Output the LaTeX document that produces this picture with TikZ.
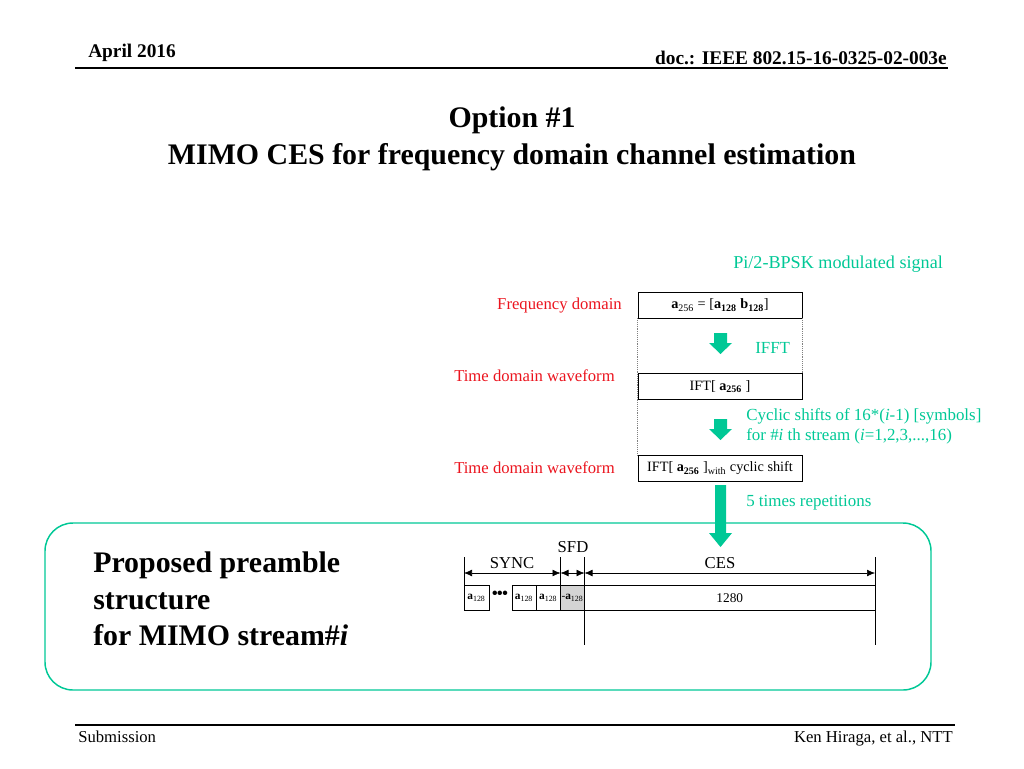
\documentclass[tikz,border=0pt]{standalone}
\usepackage{fontspec}
\setmainfont{Liberation Serif}
\usetikzlibrary{arrows.meta}
\definecolor{cesgreen}{RGB}{0,200,150}
\definecolor{domred}{RGB}{235,20,30}
\definecolor{sfdgray}{RGB}{212,212,212}

\begin{document}
\begin{tikzpicture}[x=0.75pt,y=-0.75pt]
	\tikzset{box/.style = {draw, minimum width=123pt, minimum height=19.5pt, inner sep=0pt, font=\fontsize{10.7}{12}\selectfont},
		cell/.style = {draw, minimum height=19pt, inner sep=0pt, font=\fontsize{8.5}{9}\selectfont},
		redtext/.style = {text=domred, anchor=east, inner sep=0pt, font=\fontsize{12.5}{15}\selectfont},
		greentext/.style = {text=cesgreen, anchor=west, inner sep=0pt, font=\fontsize{12.7}{15}\selectfont},
		dimline/.style = {{Latex[length=6pt,width=5pt]}-{Latex[length=6pt,width=5pt]}}}

	\useasboundingbox (0,0) rectangle (1024,768);

	\node[anchor=west, inner sep=0pt, font=\fontsize{14.5}{17}\selectfont\bfseries] (H_date) at (88,53) {April 2016};
	\node[anchor=east, inner sep=0pt, font=\fontsize{14.5}{17}\selectfont\bfseries] (H_doc) at (947,58) {doc.: IEEE 802.15-16-0325-02-003e};
	\draw[line width=1.2pt] (75,68) -- (948,68);

	\node[font=\fontsize{22.4}{27}\selectfont\bfseries] (T_1) at (512,120) {Option \#1};
	\node[font=\fontsize{22.4}{27}\selectfont\bfseries] (T_2) at (512,157) {MIMO CES for frequency domain channel estimation};

	\node[greentext, font=\fontsize{13.6}{15}\selectfont] (G_bpsk) at (733,264) {Pi/2-BPSK modulated signal};

	\node[box] (F_box) at (720,305) {{\bfseries a}\textsubscript{256} = [{\bfseries a\textsubscript{128} b\textsubscript{128}}]};
	\node[box] (T_box) at (720,386.5) {IFT[ {\bfseries a\textsubscript{256}} ]};
	\node[box] (C_box) at (720,468.5) {IFT[ {\bfseries a\textsubscript{256}} ]\textsubscript{with} cyclic shift};

	\node[redtext] (R_freq) at (622,306) {Frequency domain};
	\node[redtext] (R_time1) at (615,376) {Time domain waveform};
	\node[redtext] (R_time2) at (615,468) {Time domain waveform};

	\draw[densely dotted, gray] (F_box.south west) -- (C_box.north west);
	\draw[densely dotted, gray] (F_box.south east) -- (T_box.north east);

	\fill[cesgreen] (714,333) -- (727,333) -- (727,343) -- (732,343) -- (720.5,354) -- (709,343) -- (714,343) -- cycle;
	\fill[cesgreen] (714,419) -- (727,419) -- (727,429) -- (732,429) -- (720.5,440) -- (709,429) -- (714,429) -- cycle;
	\fill[cesgreen] (715,485) -- (726,485) -- (726,533) -- (732,533) -- (720.5,547) -- (709,533) -- (715,533) -- cycle;

	\node[greentext] (G_ifft) at (755,348) {IFFT};
	\node[greentext, align=left] (G_shift) at (746,426) {Cyclic shifts of 16*(\textit{i}-1) [symbols]\\for \#\textit{i} th stream (\textit{i}=1,2,3,...,16)};
	\node[greentext] (G_rep) at (746,503) {5 times repetitions};

	\node[draw=cesgreen, line width=1.1pt, rounded corners=21pt, minimum width=664.5pt, minimum height=125.25pt] (P_frame) at (488,606.5) {};
	\node[anchor=west, align=left, inner sep=0pt, font=\fontsize{22.4}{27.4}\selectfont\bfseries] (P_text) at (93,599) {Proposed preamble\\structure\\for MIMO stream\#\textit{i}};

	\coordinate (L_sync) at (464,557);
	\coordinate (L_sfd) at (560.5,557);
	\coordinate (L_ces) at (584.5,557);
	\coordinate (L_end) at (875,557);
	\draw (L_sync) -- ++(0,53.5);
	\draw (L_sfd) -- ++(0,28);
	\draw (L_ces) -- ++(0,88);
	\draw (L_end) -- ++(0,88);
	\draw[dimline] ([yshift=-12pt]L_sync) -- ([yshift=-12pt]L_sfd);
	\draw[dimline] ([yshift=-12pt]L_sfd) -- ([yshift=-12pt]L_ces);
	\draw[dimline] ([yshift=-12pt]L_ces) -- ([yshift=-12pt]L_end);
	\node[font=\fontsize{12.5}{15}\selectfont] (D_sync) at (512,563) {SYNC};
	\node[font=\fontsize{12.5}{15}\selectfont] (D_sfd) at (573,547) {SFD};
	\node[font=\fontsize{12.5}{15}\selectfont] (D_ces) at (720,563) {CES};

	\node[cell, minimum width=18.75pt] (S_1) at (476.5,597.75) {{\bfseries a}\textsubscript{128}};
	\node[font=\fontsize{14}{14}\selectfont] (S_dots) at (500,595) {\textbullet\kern-1pt\textbullet\kern-1pt\textbullet};
	\node[cell, minimum width=18pt] (S_2) at (524,597.75) {{\bfseries a}\textsubscript{128}};
	\node[cell, minimum width=18.4pt] (S_3) at (548.25,597.75) {{\bfseries a}\textsubscript{128}};
	\node[cell, fill=sfdgray, minimum width=18pt] (S_sfd) at (572.5,597.75) {-{\bfseries a}\textsubscript{128}};
	\node[cell, minimum width=218pt, font=\fontsize{10}{12}\selectfont] (S_ces) at (729.75,597.75) {1280};

	\draw[line width=1.2pt] (75,725) -- (955,725);
	\node[anchor=west, inner sep=0pt, font=\fontsize{12.5}{15}\selectfont] (B_sub) at (78,737) {Submission};
	\node[anchor=east, inner sep=0pt, font=\fontsize{12.5}{15}\selectfont] (B_auth) at (953,739) {Ken Hiraga, et al., NTT};
\end{tikzpicture}
\end{document}
